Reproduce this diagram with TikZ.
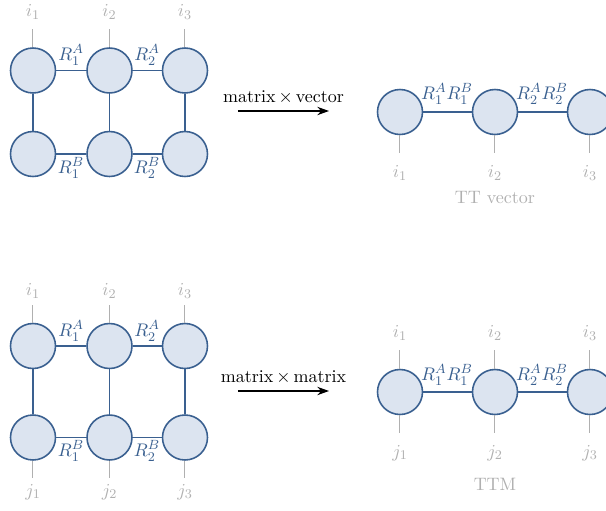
\documentclass[tikz,border=0pt]{standalone}
\usetikzlibrary{arrows.meta}
\definecolor{cfill}{HTML}{DCE4F0}
\definecolor{cdraw}{HTML}{3A6090}
\definecolor{cgray}{HTML}{B0B0B0}
\begin{document}
\begin{tikzpicture}[x=0.6pt,y=-0.6pt,
  every node/.style={font=\fontsize{10.8}{13}\selectfont},
  core/.style={circle,draw=cdraw,fill=cfill,line width=0.95pt,minimum size=27pt,inner sep=0pt},
  bond/.style={draw=cdraw,line width=0.95pt},
  leg/.style={draw=cgray,line width=0.6pt},
  idx/.style={text=cgray,inner sep=0pt},
  rlab/.style={text=cdraw,inner sep=0pt},
  captext/.style={text=cgray,inner sep=0pt},
  op/.style={-{Stealth[length=7pt,width=5pt]},line width=0.7pt}]
\useasboundingbox (0,0) rectangle (606,511);
% ---------- top left: matrix x vector ----------
\node[core] (a1) at (33,70.5) {};
\node[core] (a2) at (109.5,70.5) {};
\node[core] (a3) at (185,70.5) {};
\node[core] (b1) at (33,154) {};
\node[core] (b2) at (109.5,154) {};
\node[core] (b3) at (185,154) {};
\draw[bond] (a1) -- (a2) (a2) -- (a3) (b1) -- (b2) (b2) -- (b3)
  (a1) -- (b1) (a2) -- (b2) (a3) -- (b3);
\coordinate (ta1) at (33,29); \coordinate (ta2) at (109.5,29); \coordinate (ta3) at (185,29);
\draw[leg] (ta1) -- (a1) (ta2) -- (a2) (ta3) -- (a3);
\node[idx] (li1) at (33,12) {$i_1$};
\node[idx] (li2) at (109.5,12) {$i_2$};
\node[idx] (li3) at (185,12) {$i_3$};
\node[rlab] (ra1) at (71,55) {$R_1^A$};
\node[rlab] (ra2) at (147,55) {$R_2^A$};
\node[rlab] (rb1) at (71,168) {$R_1^B$};
\node[rlab] (rb2) at (147,168) {$R_2^B$};
% arrow
\coordinate (s1) at (238,111); \coordinate (e1) at (329,111);
\draw[op] (s1) -- (e1);
\node[inner sep=0pt] (t1) at (283.5,97) {matrix$\,\times\,$vector};
% ---------- top right: TT vector ----------
\node[core] (v1) at (400,112) {};
\node[core] (v2) at (495,112) {};
\node[core] (v3) at (590,112) {};
\draw[bond] (v1) -- (v2) (v2) -- (v3);
\coordinate (bv1) at (400,153); \coordinate (bv2) at (495,153); \coordinate (bv3) at (590,153);
\draw[leg] (v1) -- (bv1) (v2) -- (bv2) (v3) -- (bv3);
\node[idx] (vi1) at (400,173) {$i_1$};
\node[idx] (vi2) at (495,173) {$i_2$};
\node[idx] (vi3) at (590,173) {$i_3$};
\node[rlab] (vr1) at (447,94) {$R_1^AR_1^B$};
\node[rlab] (vr2) at (542,94) {$R_2^AR_2^B$};
\node[captext] (tv) at (495,198) {TT vector};
% ---------- bottom left: matrix x matrix ----------
\node[core] (c1) at (33,346) {};
\node[core] (c2) at (109.5,346) {};
\node[core] (c3) at (185,346) {};
\node[core] (d1) at (33,437.5) {};
\node[core] (d2) at (109.5,437.5) {};
\node[core] (d3) at (185,437.5) {};
\draw[bond] (c1) -- (c2) (c2) -- (c3) (d1) -- (d2) (d2) -- (d3)
  (c1) -- (d1) (c2) -- (d2) (c3) -- (d3);
\coordinate (tc1) at (33,305); \coordinate (tc2) at (109.5,305); \coordinate (tc3) at (185,305);
\draw[leg] (tc1) -- (c1) (tc2) -- (c2) (tc3) -- (c3);
\coordinate (bd1) at (33,478); \coordinate (bd2) at (109.5,478); \coordinate (bd3) at (185,478);
\draw[leg] (d1) -- (bd1) (d2) -- (bd2) (d3) -- (bd3);
\node[idx] (ci1) at (33,291) {$i_1$};
\node[idx] (ci2) at (109.5,291) {$i_2$};
\node[idx] (ci3) at (185,291) {$i_3$};
\node[idx] (dj1) at (33,492) {$j_1$};
\node[idx] (dj2) at (109.5,492) {$j_2$};
\node[idx] (dj3) at (185,492) {$j_3$};
\node[rlab] (rc1) at (71,331) {$R_1^A$};
\node[rlab] (rc2) at (147,331) {$R_2^A$};
\node[rlab] (rd1) at (71,451) {$R_1^B$};
\node[rlab] (rd2) at (147,451) {$R_2^B$};
% arrow
\coordinate (s2) at (238,391); \coordinate (e2) at (329,391);
\draw[op] (s2) -- (e2);
\node[inner sep=0pt] (t2) at (283.5,377) {matrix$\,\times\,$matrix};
% ---------- bottom right: TTM ----------
\node[core] (m1) at (400,392) {};
\node[core] (m2) at (495,392) {};
\node[core] (m3) at (590,392) {};
\draw[bond] (m1) -- (m2) (m2) -- (m3);
\coordinate (tm1) at (400,350); \coordinate (tm2) at (495,350); \coordinate (tm3) at (590,350);
\coordinate (bm1) at (400,433); \coordinate (bm2) at (495,433); \coordinate (bm3) at (590,433);
\draw[leg] (tm1) -- (m1) (tm2) -- (m2) (tm3) -- (m3)
  (m1) -- (bm1) (m2) -- (bm2) (m3) -- (bm3);
\node[idx] (mi1) at (400,333) {$i_1$};
\node[idx] (mi2) at (495,333) {$i_2$};
\node[idx] (mi3) at (590,333) {$i_3$};
\node[idx] (mj1) at (400,453) {$j_1$};
\node[idx] (mj2) at (495,453) {$j_2$};
\node[idx] (mj3) at (590,453) {$j_3$};
\node[rlab] (mr1) at (447,375) {$R_1^AR_1^B$};
\node[rlab] (mr2) at (542,375) {$R_2^AR_2^B$};
\node[captext] (ttm) at (495,484) {TTM};
\end{tikzpicture}
\end{document}
